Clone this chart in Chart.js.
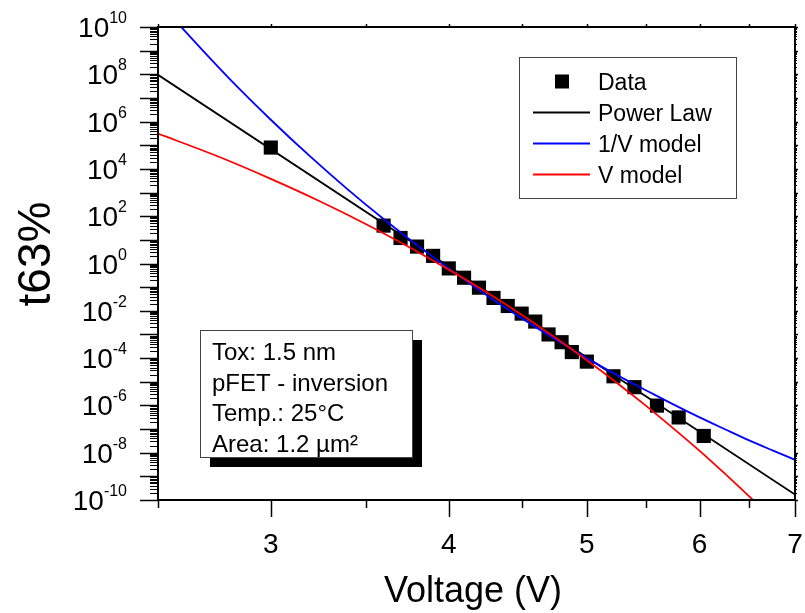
<!DOCTYPE html>
<html>
<head>
<meta charset="utf-8">
<title>t63% vs Voltage</title>
<script src="https://cdn.jsdelivr.net/npm/chart.js@4"></script>
<style>
    html, body { margin: 0; padding: 0; background: #fff; }
    #wrap { width: 805px; height: 613px; }
</style>
</head>
<body>
<div id="wrap"><canvas id="t63-chart" width="805" height="613"></canvas></div>
<script>
// measured points
const dataVoltage = [3.0, 3.6, 3.7, 3.8, 3.9, 4.0, 4.1, 4.2, 4.3, 4.4, 4.5, 4.6, 4.7, 4.8, 4.88, 5.0, 5.22, 5.4, 5.6, 5.8, 6.04];
const dataT63 = [8.0e4, 40, 12, 5.2, 2.1, 0.62, 0.25, 0.095, 0.035, 0.016, 7.6e-3, 3.5e-3, 1.0e-3, 4.7e-4, 1.8e-4, 7.1e-5, 1.7e-5, 5.9e-6, 9.8e-7, 3.1e-7, 5.1e-8];

// power law fit (straight line on log-log)
const powerVoltage = [2.5, 7.0];
const powerT63 = [9.5e7, 1.7e-10];

// 1/V model curve
const invVVoltage = [2.55, 2.6, 2.8, 3.0, 3.2, 3.4, 3.6, 3.8, 4.0, 4.25, 4.5, 4.75, 5.0, 5.25, 5.5, 5.75, 6.0, 6.25, 6.5, 6.75, 7.0];
const invVT63 = [3.3e10, 8.9e9, 7.4e7, 1.2e6, 3.2e4, 1.3e3, 76, 6.0, 0.62, 0.047, 4.9e-3, 6.3e-4, 1.0e-4, 1.9e-5, 4.4e-6, 1.1e-6, 3.1e-7, 9.8e-8, 3.3e-8, 1.25e-8, 5.0e-9];

// V model curve
const vVoltage = [2.5, 2.75, 3.0, 3.25, 3.5, 3.75, 4.0, 4.25, 4.5, 4.75, 5.0, 5.25, 5.5, 5.75, 6.0, 6.25, 6.6];
const vT63 = [3.1e5, 3.5e4, 3.8e3, 420, 46, 5.0, 0.55, 0.062, 6.8e-3, 7.4e-4, 8.1e-5, 8.9e-6, 9.8e-7, 1.07e-7, 1.2e-8, 1.3e-9, 6.0e-11];

// axes
const xMajorTicks = [3, 4, 5, 6, 7];
const xTickLabels = ['3', '4', '5', '6', '7'];
const xMinorTicks = [2.5, 3.5, 4.5, 5.5, 6.5];
const yLabelExponents = [10, 8, 6, 4, 2, 0, -2, -4, -6, -8, -10];

const infoLines = ['Tox: 1.5 nm', 'pFET - inversion', 'Temp.: 25°C', 'Area: 1.2 µm²'];

const FONT = '"Liberation Sans", Arial, Helvetica, sans-serif';

function toPoints(xs, ys) {
    return xs.map((x, i) => ({ x: x, y: ys[i] }));
}

function line(ctx, x1, y1, x2, y2) {
    ctx.beginPath();
    ctx.moveTo(x1, y1);
    ctx.lineTo(x2, y2);
    ctx.stroke();
}

const whiteBackground = {
    id: 'whiteBackground',
    beforeDraw(chart) {
        const ctx = chart.ctx;
        ctx.save();
        ctx.fillStyle = '#fff';
        ctx.fillRect(0, 0, chart.width, chart.height);
        ctx.restore();
    }
};

const frameAndAxes = {
    id: 'frameAndAxes',
    afterDraw(chart) {
        const { ctx, chartArea: a } = chart;
        const x = chart.scales.x;
        const y = chart.scales.y;
        ctx.save();
        ctx.strokeStyle = '#000';
        ctx.fillStyle = '#000';

        // x ticks
        ctx.lineWidth = 1.5;
        xMajorTicks.forEach(v => {
            const px = Math.round(x.getPixelForValue(v)) + 0.5;
            line(ctx, px, a.bottom, px, a.bottom + 17);
            line(ctx, px, a.top, px, a.top - 3);
        });
        xMinorTicks.forEach(v => {
            const px = Math.round(x.getPixelForValue(v)) + 0.5;
            line(ctx, px, a.bottom, px, a.bottom + 8);
            line(ctx, px, a.top, px, a.top - 3);
        });

        // y ticks, one major per decade plus minors
        ctx.lineWidth = 1;
        for (let e = -10; e <= 10; e++) {
            const py = Math.round(y.getPixelForValue(Math.pow(10, e))) + 0.5;
            ctx.lineWidth = 1.5;
            line(ctx, a.left - 18, py, a.left, py);
            line(ctx, a.right, py, a.right + 3, py);
            if (e < 10) {
                ctx.lineWidth = 1;
                for (let m = 2; m <= 9; m++) {
                    const pm = Math.round(y.getPixelForValue(m * Math.pow(10, e))) + 0.5;
                    line(ctx, a.left - 8, pm, a.left, pm);
                    line(ctx, a.right, pm, a.right + 2, pm);
                }
            }
        }

        // frame
        ctx.lineWidth = 2;
        ctx.strokeRect(a.left, a.top, a.right - a.left, a.bottom - a.top);

        // x tick labels
        ctx.font = '28px ' + FONT;
        ctx.textAlign = 'center';
        ctx.textBaseline = 'alphabetic';
        xMajorTicks.forEach((v, i) => {
            ctx.fillText(xTickLabels[i], x.getPixelForValue(v), 553);
        });

        // y tick labels: 10 with superscript exponent
        const labelRight = 127;
        yLabelExponents.forEach(e => {
            const py = y.getPixelForValue(Math.pow(10, e));
            const expText = String(e);
            ctx.font = '16px ' + FONT;
            const expW = ctx.measureText(expText).width;
            ctx.textAlign = 'left';
            ctx.fillText(expText, labelRight - expW, py - 4);
            ctx.font = '28px ' + FONT;
            ctx.textAlign = 'right';
            ctx.fillText('10', labelRight - expW, py + 10);
        });

        // axis titles
        ctx.textAlign = 'center';
        ctx.font = '36px ' + FONT;
        ctx.fillText('Voltage (V)', 473, 602);

        ctx.save();
        ctx.translate(50, 254);
        ctx.rotate(-Math.PI / 2);
        ctx.font = '46px ' + FONT;
        ctx.fillText('t63%', 0, 0);
        ctx.restore();

        ctx.restore();
    }
};

const legendBox = {
    id: 'legendBox',
    afterDraw(chart) {
        const ctx = chart.ctx;
        ctx.save();
        ctx.fillStyle = '#fff';
        ctx.fillRect(519, 57, 217, 141);
        ctx.strokeStyle = '#444';
        ctx.lineWidth = 1;
        ctx.strokeRect(519.5, 57.5, 217, 141);

        ctx.font = '23px ' + FONT;
        ctx.textAlign = 'left';
        ctx.textBaseline = 'alphabetic';
        chart.data.datasets.forEach((ds, i) => {
            const yc = 81.5 + 31 * i;
            if (ds.showLine) {
                ctx.strokeStyle = ds.borderColor;
                ctx.lineWidth = 2;
                line(ctx, 533, yc, 590, yc);
            } else {
                ctx.fillStyle = ds.backgroundColor;
                ctx.fillRect(555, yc - 7, 14, 14);
            }
            ctx.fillStyle = '#000';
            ctx.fillText(ds.label, 598, yc + 8);
        });
        ctx.restore();
    }
};

const infoBox = {
    id: 'infoBox',
    afterDraw(chart) {
        const ctx = chart.ctx;
        ctx.save();
        ctx.fillStyle = '#000';
        ctx.fillRect(210, 340, 212, 127);
        ctx.fillStyle = '#fff';
        ctx.fillRect(200, 330, 212, 127);
        ctx.strokeStyle = '#444';
        ctx.lineWidth = 1;
        ctx.strokeRect(200.5, 330.5, 212, 127);

        ctx.fillStyle = '#000';
        ctx.font = '24px ' + FONT;
        ctx.textAlign = 'left';
        ctx.textBaseline = 'alphabetic';
        infoLines.forEach((t, i) => {
            ctx.fillText(t, 212, 360 + 30.7 * i);
        });
        ctx.restore();
    }
};

const ctx = document.getElementById('t63-chart');

new Chart(ctx, {
    type: 'scatter',
    data: {
        datasets: [{
            label: 'Data',
            data: toPoints(dataVoltage, dataT63),
            showLine: false,
            pointStyle: 'rect',
            pointRadius: 10,
            backgroundColor: '#000',
            borderColor: '#000',
            borderWidth: 0,
            order: 4
        }, {
            label: 'Power Law',
            data: toPoints(powerVoltage, powerT63),
            showLine: true,
            borderColor: '#000',
            borderWidth: 1.8,
            pointRadius: 0,
            order: 3
        }, {
            label: '1/V model',
            data: toPoints(invVVoltage, invVT63),
            showLine: true,
            borderColor: '#0000ff',
            borderWidth: 1.8,
            pointRadius: 0,
            cubicInterpolationMode: 'monotone',
            order: 2
        }, {
            label: 'V model',
            data: toPoints(vVoltage, vT63),
            showLine: true,
            borderColor: '#ff0000',
            borderWidth: 1.8,
            pointRadius: 0,
            cubicInterpolationMode: 'monotone',
            order: 1
        }]
    },
    options: {
        responsive: false,
        animation: false,
        layout: {
            padding: { left: 158, right: 7, top: 27, bottom: 113 }
        },
        plugins: {
            legend: { display: false },
            tooltip: { enabled: false }
        },
        scales: {
            x: {
                type: 'logarithmic',
                min: 2.5,
                max: 7,
                display: false
            },
            y: {
                type: 'logarithmic',
                min: 1e-10,
                max: 1e10,
                display: false
            }
        }
    },
    plugins: [whiteBackground, frameAndAxes, legendBox, infoBox]
});
</script>
</body>
</html>
